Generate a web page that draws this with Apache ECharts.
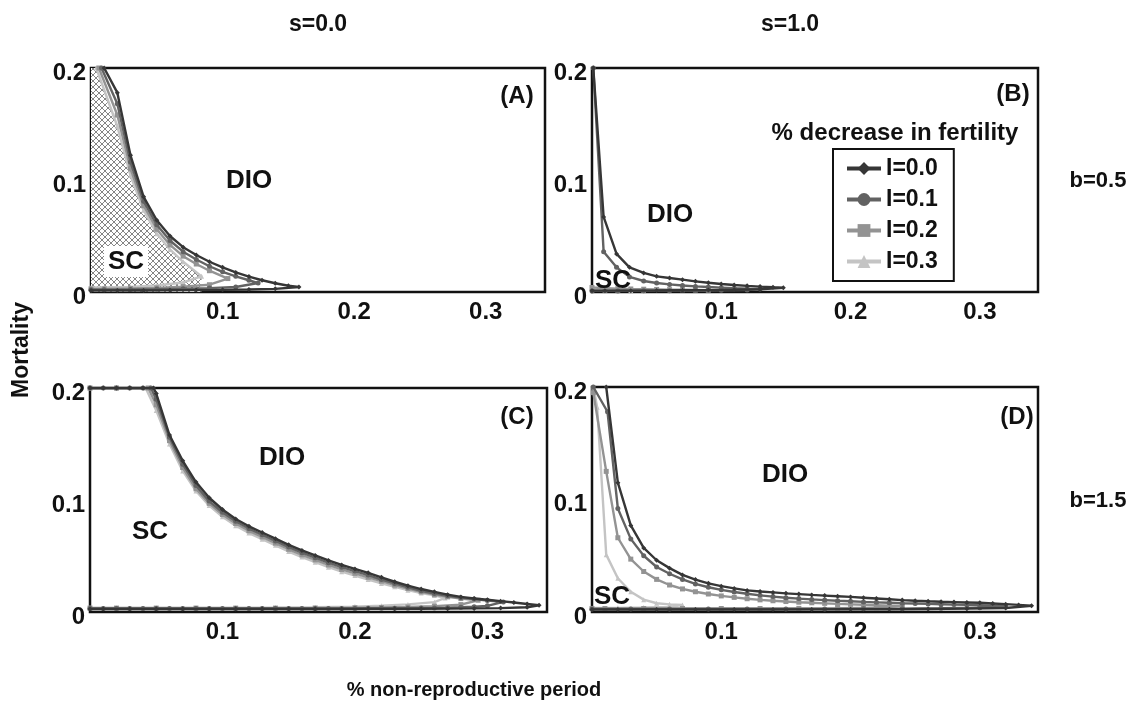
<!DOCTYPE html>
<html><head><meta charset="utf-8">
<script src="https://cdn.jsdelivr.net/npm/echarts@6/dist/echarts.min.js"></script>
<style>html,body{margin:0;padding:0;background:#fff}#c{width:1128px;height:701px}</style>
</head><body><div id="c"></div>
<script>
const SERIES_NAMES = ['I=0.0','I=0.1','I=0.2','I=0.3'];
const SYMBOLS = ['diamond','circle','rect','triangle'];
const COLORS = ['#363636','#626262','#939393','#c4c4c4'];
const X_TICKS = [0.1, 0.2, 0.3];
const Y_TICKS = [0, 0.1, 0.2];
const PANEL_LABELS = ['(A)','(B)','(C)','(D)'];
const COL_TITLES = ['s=0.0','s=1.0'];
const ROW_TITLES = ['b=0.5','b=1.5'];
const X_TITLE = '% non-reproductive period';
const Y_TITLE = 'Mortality';
const LEGEND_TITLE = '% decrease in fertility';

// Panel A (s=0.0, b=0.5)
const A_I00 = [[0.01,0.2],[0.02,0.178],[0.03,0.122],[0.04,0.085],[0.05,0.064],[0.06,0.05],[0.07,0.04],[0.08,0.033],[0.09,0.027],[0.1,0.022],[0.11,0.0175],[0.12,0.0138],[0.13,0.0105],[0.14,0.0078],[0.15,0.0056],[0.158,0.0045],[0.14,0.0028],[0.12,0.0022],[0.1,0.0019],[0.08,0.0017],[0.06,0.0015],[0.04,0.0014],[0.02,0.0013],[0,0.0013]];
const A_I01 = [[0.008,0.2],[0.02,0.168],[0.03,0.116],[0.04,0.081],[0.05,0.06],[0.06,0.046],[0.07,0.036],[0.08,0.029],[0.09,0.023],[0.1,0.018],[0.11,0.014],[0.12,0.0105],[0.127,0.008],[0.11,0.0045],[0.09,0.0035],[0.07,0.003],[0.05,0.0026],[0.03,0.0023],[0.01,0.0021],[0,0.0021]];
const A_I02 = [[0.006,0.2],[0.02,0.158],[0.03,0.11],[0.04,0.077],[0.05,0.056],[0.06,0.042],[0.07,0.032],[0.08,0.025],[0.09,0.019],[0.104,0.012],[0.09,0.0065],[0.07,0.0048],[0.05,0.0037],[0.03,0.0031],[0.01,0.0028],[0,0.0028]];
const A_I03 = [[0.004,0.2],[0.02,0.148],[0.03,0.104],[0.04,0.073],[0.05,0.052],[0.06,0.038],[0.07,0.027],[0.084,0.014],[0.07,0.0085],[0.05,0.0058],[0.03,0.0046],[0.01,0.004],[0,0.004]];

// Panel B (s=1.0, b=0.5)
const B_I00 = [[0.001,0.2],[0.009,0.067],[0.019,0.034],[0.029,0.022],[0.04,0.017],[0.05,0.014],[0.06,0.0125],[0.07,0.011],[0.08,0.0095],[0.09,0.0083],[0.1,0.0072],[0.11,0.0063],[0.12,0.0055],[0.13,0.0048],[0.14,0.0042],[0.148,0.0038],[0.13,0.0025],[0.11,0.002],[0.09,0.0017],[0.07,0.0015],[0.05,0.0013],[0.03,0.0012],[0.01,0.0012],[0,0.0012]];
const B_I01 = [[0.001,0.2],[0.009,0.036],[0.019,0.022],[0.029,0.0135],[0.04,0.0098],[0.05,0.008],[0.06,0.0068],[0.07,0.0058],[0.08,0.005],[0.09,0.0044],[0.1,0.0039],[0.11,0.0034],[0.12,0.003],[0.13,0.0027],[0.12,0.0018],[0.1,0.0015],[0.08,0.0013],[0.06,0.0012],[0.04,0.0011],[0.02,0.001],[0,0.001]];
const B_I02 = [[0,0.004],[0.01,0.0035],[0.02,0.003],[0.03,0.0027],[0.04,0.0025],[0.05,0.0023],[0.06,0.0021],[0.07,0.002],[0.08,0.0018],[0.09,0.0016]];
const B_I03 = [[0,0.002],[0.01,0.0018],[0.02,0.0016],[0.03,0.0014],[0.04,0.0012]];

// Panel C (s=0.0, b=1.5)
const C_I00 = [[0,0.2],[0.01,0.2],[0.02,0.2],[0.03,0.2],[0.04,0.2],[0.048,0.2],[0.05,0.195],[0.06,0.158],[0.07,0.135],[0.08,0.116],[0.09,0.102],[0.1,0.0915],[0.11,0.083],[0.12,0.0765],[0.13,0.071],[0.14,0.0655],[0.15,0.06],[0.16,0.055],[0.17,0.0505],[0.18,0.046],[0.19,0.042],[0.2,0.0385],[0.21,0.035],[0.22,0.031],[0.23,0.027],[0.24,0.0235],[0.25,0.0205],[0.26,0.018],[0.27,0.0155],[0.28,0.0135],[0.29,0.012],[0.3,0.011],[0.31,0.0097],[0.32,0.0085],[0.33,0.0072],[0.339,0.006],[0.33,0.0042],[0.31,0.0035],[0.29,0.0032],[0.27,0.003],[0.25,0.0029],[0.23,0.0028],[0.21,0.0028],[0.19,0.0027],[0.17,0.0027],[0.15,0.0027],[0.13,0.0027],[0.11,0.0027],[0.09,0.0027],[0.07,0.0027],[0.05,0.0027],[0.03,0.0027],[0.01,0.0027],[0,0.0027]];
const C_I01 = [[0,0.2],[0.01,0.2],[0.02,0.2],[0.03,0.2],[0.04,0.2],[0.046,0.2],[0.05,0.19],[0.06,0.156],[0.07,0.132],[0.08,0.113],[0.09,0.099],[0.1,0.089],[0.11,0.081],[0.12,0.0745],[0.13,0.069],[0.14,0.0635],[0.15,0.058],[0.16,0.053],[0.17,0.0485],[0.18,0.044],[0.19,0.04],[0.2,0.0365],[0.21,0.033],[0.22,0.029],[0.23,0.0255],[0.24,0.022],[0.25,0.019],[0.26,0.0165],[0.27,0.0145],[0.28,0.0128],[0.29,0.0115],[0.3,0.0103],[0.312,0.009],[0.3,0.0055],[0.29,0.0047],[0.28,0.0042],[0.27,0.0038],[0.26,0.0036],[0.25,0.0035],[0.24,0.0034],[0.23,0.0033],[0.22,0.0033],[0.21,0.0033],[0.2,0.0032],[0.19,0.0032],[0.18,0.0032],[0.17,0.0032],[0.16,0.0032],[0.15,0.0032],[0.14,0.0032],[0.13,0.0032],[0.12,0.0032],[0.11,0.0032],[0.1,0.0032],[0.09,0.0032],[0.08,0.0032],[0.07,0.0032],[0.06,0.0032],[0.05,0.0032],[0.04,0.0032],[0.03,0.0032],[0.02,0.0032],[0.01,0.0032],[0,0.0032]];
const C_I02 = [[0,0.2],[0.02,0.2],[0.044,0.2],[0.05,0.185],[0.06,0.153],[0.07,0.129],[0.08,0.11],[0.09,0.097],[0.1,0.087],[0.11,0.079],[0.12,0.0725],[0.13,0.067],[0.14,0.0615],[0.15,0.056],[0.16,0.051],[0.17,0.0465],[0.18,0.042],[0.19,0.038],[0.2,0.0345],[0.21,0.031],[0.22,0.0275],[0.23,0.024],[0.24,0.021],[0.25,0.018],[0.26,0.0155],[0.27,0.0135],[0.28,0.012],[0.293,0.0105],[0.28,0.0066],[0.26,0.0052],[0.24,0.0045],[0.22,0.004],[0.2,0.0038],[0.17,0.0036],[0.14,0.0035],[0.11,0.0035],[0.08,0.0035],[0.05,0.0035],[0.02,0.0035],[0,0.0035]];
const C_I03 = [[0,0.2],[0.02,0.2],[0.042,0.2],[0.05,0.18],[0.06,0.15],[0.07,0.126],[0.08,0.108],[0.09,0.095],[0.1,0.085],[0.11,0.077],[0.12,0.0705],[0.13,0.065],[0.14,0.0595],[0.15,0.054],[0.16,0.049],[0.17,0.0445],[0.18,0.04],[0.19,0.036],[0.2,0.0325],[0.21,0.029],[0.22,0.0255],[0.23,0.0225],[0.24,0.0195],[0.25,0.017],[0.26,0.0148],[0.268,0.0125],[0.26,0.0088],[0.24,0.0068],[0.22,0.0056],[0.2,0.0048],[0.17,0.0043],[0.14,0.004],[0.11,0.0038],[0.08,0.0038],[0.05,0.0038],[0.02,0.0038],[0,0.0038]];

// Panel D (s=1.0, b=1.5)
const D_I00 = [[0.011,0.2],[0.02,0.115],[0.03,0.077],[0.04,0.057],[0.05,0.046],[0.06,0.039],[0.07,0.033],[0.08,0.0288],[0.09,0.0255],[0.1,0.023],[0.11,0.021],[0.12,0.0192],[0.13,0.0182],[0.14,0.0174],[0.15,0.0166],[0.16,0.0159],[0.17,0.0152],[0.18,0.0146],[0.19,0.014],[0.2,0.0134],[0.21,0.0127],[0.22,0.012],[0.23,0.0113],[0.24,0.0106],[0.25,0.01],[0.26,0.0095],[0.27,0.0091],[0.28,0.0088],[0.29,0.0085],[0.3,0.0082],[0.31,0.0076],[0.32,0.007],[0.33,0.0063],[0.34,0.0056],[0.32,0.0036],[0.29,0.003],[0.26,0.0027],[0.23,0.0025],[0.2,0.0024],[0.17,0.0023],[0.14,0.0022],[0.11,0.0022],[0.08,0.0022],[0.05,0.0022],[0.02,0.0022],[0,0.0022]];
const D_I01 = [[0.001,0.2],[0.012,0.178],[0.02,0.092],[0.03,0.065],[0.04,0.05],[0.05,0.04],[0.06,0.034],[0.07,0.029],[0.08,0.025],[0.09,0.022],[0.1,0.0197],[0.11,0.0178],[0.12,0.0162],[0.13,0.0148],[0.14,0.0137],[0.15,0.0127],[0.16,0.0119],[0.17,0.0112],[0.18,0.0106],[0.19,0.01],[0.2,0.0095],[0.21,0.009],[0.22,0.0086],[0.23,0.0082],[0.24,0.0078],[0.25,0.0075],[0.26,0.0072],[0.27,0.0069],[0.28,0.0066],[0.29,0.0063],[0.3,0.006],[0.31,0.0057],[0.32,0.0054],[0.3,0.0038],[0.27,0.0033],[0.24,0.003],[0.21,0.0028],[0.18,0.0027],[0.15,0.0027],[0.12,0.0027],[0.09,0.0027],[0.06,0.0027],[0.03,0.0027],[0,0.0027]];
const D_I02 = [[0.001,0.195],[0.011,0.125],[0.02,0.066],[0.03,0.047],[0.04,0.036],[0.05,0.029],[0.06,0.024],[0.07,0.0205],[0.08,0.018],[0.09,0.016],[0.1,0.0143],[0.11,0.013],[0.12,0.0118],[0.13,0.0108],[0.14,0.01],[0.15,0.0093],[0.16,0.0087],[0.17,0.0082],[0.18,0.0077],[0.19,0.0072],[0.2,0.0068],[0.21,0.0064],[0.22,0.006],[0.23,0.0056],[0.24,0.0052],[0.22,0.0038],[0.19,0.0034],[0.16,0.0032],[0.13,0.0031],[0.1,0.0031],[0.07,0.0031],[0.04,0.0031],[0.01,0.0031],[0,0.0031]];
const D_I03 = [[0.001,0.2],[0.004,0.182],[0.011,0.051],[0.02,0.03],[0.03,0.018],[0.04,0.011],[0.05,0.0078],[0.06,0.0068],[0.07,0.0062],[0.06,0.0045],[0.04,0.004],[0.02,0.0037],[0,0.0035]];

const PANELS = [
  [A_I00, A_I01, A_I02, A_I03],
  [B_I00, B_I01, B_I02, B_I03],
  [C_I00, C_I01, C_I02, C_I03],
  [D_I00, D_I01, D_I02, D_I03]
];
// SC hatched region in panel A: bounded by the upper branch of I=0.3
const A_HATCH = [[0, 0.2]].concat(A_I03.slice(0, 8), [[A_I03[7][0], 0]]);

const FONT = '"Liberation Sans", Arial, sans-serif';
const GRIDS = [
  {left: 91, top: 68, width: 454, height: 224},
  {left: 592, top: 68, width: 446, height: 224},
  {left: 90, top: 388, width: 457, height: 224},
  {left: 592, top: 387, width: 446, height: 225}
];

function tickFmt(list, rich) {
  return function (v) {
    const t = list.find(function (k) { return Math.abs(k - v) < 1e-9; });
    if (t === undefined) return '';
    return rich ? '{a|' + t + '}' : String(t);
  };
}

const hatchCanvas = document.createElement('canvas');
hatchCanvas.width = 6; hatchCanvas.height = 6;
(function () {
  const ctx = hatchCanvas.getContext('2d');
  ctx.fillStyle = '#ffffff'; ctx.fillRect(0, 0, 6, 6);
  ctx.strokeStyle = '#858585'; ctx.lineWidth = 1;
  ctx.beginPath();
  ctx.moveTo(0, 0); ctx.lineTo(6, 6);
  ctx.moveTo(6, 0); ctx.lineTo(0, 6);
  ctx.stroke();
})();

const chart = echarts.init(document.getElementById('c'), null, {renderer: 'canvas'});

const LABEL_STYLE = {fontFamily: FONT, fontWeight: 'bold', fontSize: 24, color: '#111'};
const xAxis = GRIDS.map(function (g, i) {
  return {
    type: 'value', gridIndex: i, min: 0, max: 0.345, interval: 0.1,
    axisLine: {show: false}, axisTick: {show: false}, splitLine: {show: false},
    axisLabel: Object.assign({formatter: tickFmt(X_TICKS, false), margin: 8,
      showMinLabel: false, showMaxLabel: false}, LABEL_STYLE)
  };
});
const yAxis = GRIDS.map(function (g, i) {
  return {
    type: 'value', gridIndex: i, min: 0, max: 0.2, interval: 0.1,
    axisLine: {show: false}, axisTick: {show: false}, splitLine: {show: false},
    axisLabel: Object.assign({formatter: tickFmt(Y_TICKS, true), margin: 5,
      rich: {a: Object.assign({padding: [10, 0, 0, 0]}, LABEL_STYLE)}}, LABEL_STYLE)
  };
});

const series = [{
  name: 'hatch', type: 'line', xAxisIndex: 0, yAxisIndex: 0, data: A_HATCH,
  symbol: 'none', lineStyle: {width: 0}, silent: true, z: 1,
  areaStyle: {color: {image: hatchCanvas, repeat: 'repeat'}, opacity: 1}
}];
PANELS.forEach(function (panel, p) {
  for (let k = 3; k >= 0; k--) {
    series.push({
      name: SERIES_NAMES[k], type: 'line', xAxisIndex: p, yAxisIndex: p,
      data: panel[k], symbol: SYMBOLS[k], symbolSize: 5, showSymbol: true,
      color: COLORS[k], lineStyle: {width: 2.4, color: COLORS[k]},
      itemStyle: {color: COLORS[k]}, z: 3 + (3 - k), silent: true
    });
  }
});

function txt(text, x, y, size, extra) {
  return Object.assign({
    type: 'text', x: x, y: y, z: 100,
    style: {text: text, font: 'bold ' + size + 'px ' + FONT, fill: '#111', align: 'center', verticalAlign: 'middle'}
  }, extra || {});
}

const graphic = [
  txt(COL_TITLES[0], 318, 25, 23), txt(COL_TITLES[1], 790, 25, 23),
  txt(ROW_TITLES[0], 1098, 181, 22), txt(ROW_TITLES[1], 1098, 501, 22),
  txt(Y_TITLE, 22, 350, 23, {rotation: Math.PI / 2}),
  txt(X_TITLE, 474, 690, 20),
  txt(LEGEND_TITLE, 895, 133, 24),
  txt(PANEL_LABELS[0], 517, 96, 24), txt(PANEL_LABELS[1], 1013, 94, 24),
  txt(PANEL_LABELS[2], 517, 417, 24), txt(PANEL_LABELS[3], 1017, 417, 24),
  txt('DIO', 249, 181, 26), txt('DIO', 670, 215, 26), txt('DIO', 282, 458, 26), txt('DIO', 785, 475, 26),
  {type: 'rect', z: 99, shape: {x: 104, y: 246, width: 44, height: 31}, style: {fill: '#fff'}},
  txt('SC', 126, 262, 26), txt('SC', 613, 281, 26), txt('SC', 150, 532, 26), txt('SC', 612, 597, 26)
];

chart.setOption({
  animation: false,
  backgroundColor: '#fff',
  grid: GRIDS.map(function (g) { return Object.assign({show: true, borderColor: '#111', borderWidth: 2.5, backgroundColor: 'transparent'}, g); }),
  xAxis: xAxis, yAxis: yAxis,
  legend: {
    data: SERIES_NAMES, left: 833, top: 149, orient: 'vertical',
    borderColor: '#111', borderWidth: 2, padding: [8, 16, 8, 12],
    itemWidth: 34, itemHeight: 16, itemGap: 8, selectedMode: false,
    lineStyle: {width: 4},
    textStyle: {fontFamily: FONT, fontWeight: 'bold', fontSize: 23, color: '#111'},
    backgroundColor: '#fff'
  },
  series: series,
  graphic: graphic
});
</script>
</body></html>
